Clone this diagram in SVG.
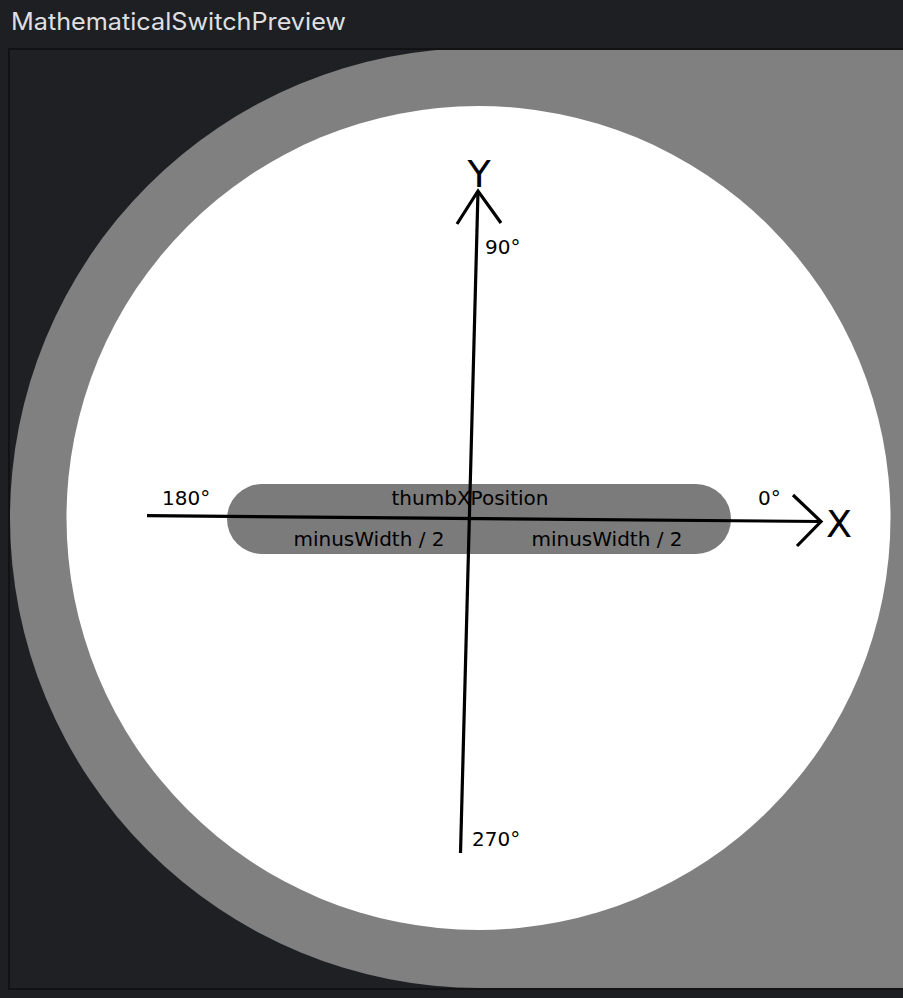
<svg xmlns="http://www.w3.org/2000/svg" width="903" height="998" viewBox="0 0 903 998">
  <defs>
    <style>
      .title { font-family: Inter, "Liberation Sans", sans-serif; font-size: 24px; fill: #dfdfe1; }
      .lbl { font-family: "DejaVu Sans", Verdana, sans-serif; font-size: 20px; fill: #000; }
      .axis-name { font-family: "DejaVu Sans", Verdana, sans-serif; font-size: 38px; fill: #000; }
      .axis { fill: none; stroke: #000; stroke-width: 3.2; stroke-linecap: butt; stroke-linejoin: miter; }
    </style>
    <clipPath id="panelClip">
      <rect x="10" y="50" width="893" height="938"/>
    </clipPath>
  </defs>

  <rect x="0" y="0" width="903" height="998" fill="#1e1f23"/>

  <g id="title">
    <text class="title" x="11" y="30" textLength="335" lengthAdjust="spacingAndGlyphs">MathematicalSwitchPreview</text>
  </g>

  <g id="panel">
    <rect x="9" y="49" width="900" height="940" fill="#1f2024" stroke="#121214" stroke-width="2"/>
  </g>

  <g id="track" clip-path="url(#panelClip)">
    <rect x="10" y="48" width="1500" height="940" rx="470" ry="470" fill="#808080"/>
  </g>

  <g id="dial">
    <circle cx="478.5" cy="518" r="412" fill="#ffffff"/>
  </g>

  <g id="thumb">
    <rect x="227" y="484" width="504" height="70" rx="35" ry="35" fill="#7b7b7b"/>
    <text class="lbl" x="470" y="505" text-anchor="middle">thumbXPosition</text>
    <text class="lbl" x="369" y="546" text-anchor="middle">minusWidth / 2</text>
    <text class="lbl" x="607" y="546" text-anchor="middle">minusWidth / 2</text>
  </g>

  <g id="connectors">
    <path class="axis" d="M147 515.7 L821 521.5"/>
    <path class="axis" d="M793 495 L821 521.5 L797 546"/>
    <path class="axis" d="M460.5 853 L478 191"/>
    <path class="axis" d="M457 224 L478 191 L501 223"/>
  </g>

  <g id="axis-labels">
    <text class="axis-name" x="839" y="537" text-anchor="middle">X</text>
    <text class="axis-name" x="479" y="187" text-anchor="middle">Y</text>
    <text class="lbl" x="758" y="505">0°</text>
    <text class="lbl" x="162" y="505">180°</text>
    <text class="lbl" x="485" y="254">90°</text>
    <text class="lbl" x="472" y="846">270°</text>
  </g>
</svg>
